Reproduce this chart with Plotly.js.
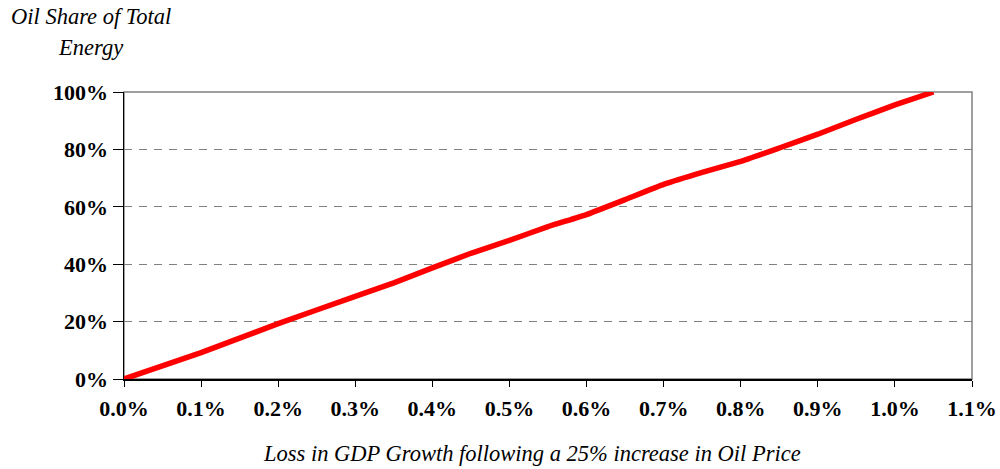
<!DOCTYPE html>
<html>
<head>
<meta charset="utf-8">
<script src="https://cdn.plot.ly/plotly-3.0.1.min.js"></script>
<style>
  html, body { margin: 0; padding: 0; background: #ffffff; }
  #chart { width: 1000px; height: 469px; }
</style>
</head>
<body>
<div id="chart"></div>
<script>
// Loss in GDP growth (%) following a 25% oil price increase
const gdpLoss = [0, 0.1, 0.2, 0.3, 0.35, 0.4, 0.45, 0.5, 0.55, 0.6, 0.65, 0.7, 0.75, 0.8, 0.85, 0.9, 0.95, 1.0, 1.05];
// Oil share of total energy (%)
const oilShare = [0, 9.2, 19.3, 28.8, 33.5, 38.7, 43.8, 48.3, 53.1, 57.3, 62.5, 67.8, 72.0, 75.8, 80.5, 85.3, 90.5, 95.5, 100];

const xTickVals = [0, 0.1, 0.2, 0.3, 0.4, 0.5, 0.6, 0.7, 0.8, 0.9, 1.0, 1.1];
const xTickText = ["0.0%", "0.1%", "0.2%", "0.3%", "0.4%", "0.5%", "0.6%", "0.7%", "0.8%", "0.9%", "1.0%", "1.1%"];
const yTickVals = [0, 20, 40, 60, 80, 100];
const yTickText = ["0%", "20%", "40%", "60%", "80%", "100%"];

const yTitleLine1 = "Oil Share of Total";
const yTitleLine2 = "Energy";
const xTitle = "Loss in GDP Growth following a 25% increase in Oil Price";

const serif = "Liberation Serif, Times New Roman, serif";

const trace = {
  x: gdpLoss,
  y: oilShare,
  type: "scatter",
  mode: "lines",
  line: { color: "#FF0000", width: 5.5, shape: "spline", smoothing: 0.3 },
  hoverinfo: "skip",
  showlegend: false
};

const layout = {
  width: 1000,
  height: 469,
  margin: { l: 124, r: 28, t: 92, b: 90 },
  paper_bgcolor: "#ffffff",
  plot_bgcolor: "#ffffff",
  showlegend: false,
  xaxis: {
    range: [0, 1.1],
    tickvals: xTickVals,
    ticktext: xTickText,
    ticks: "outside",
    ticklen: 6,
    tickcolor: "#000000",
    tickwidth: 1,
    ticklabelstandoff: 3,
    showline: true,
    linecolor: "#000000",
    linewidth: 1.5,
    showgrid: false,
    zeroline: false,
    tickfont: { family: serif, size: 22, color: "#000000", weight: "bold" },
    fixedrange: true
  },
  yaxis: {
    range: [0, 100],
    tickvals: yTickVals,
    ticktext: yTickText,
    ticks: "outside",
    ticklen: 10,
    tickcolor: "#000000",
    tickwidth: 1,
    showline: true,
    linecolor: "#000000",
    linewidth: 1.5,
    showgrid: true,
    gridcolor: "#808080",
    gridwidth: 1,
    griddash: "8px,7px",
    zeroline: false,
    tickfont: { family: serif, size: 22, color: "#000000", weight: "bold" },
    fixedrange: true
  },
  shapes: [
    {
      type: "rect", xref: "paper", yref: "paper",
      x0: 0, x1: 1, y0: 0, y1: 1,
      line: { color: "#808080", width: 1.5 },
      layer: "below"
    }
  ],
  annotations: [
    {
      text: yTitleLine1, xref: "paper", yref: "paper",
      x: 0, y: 1, xanchor: "center", yanchor: "middle",
      xshift: -33, yshift: 76,
      showarrow: false,
      font: { family: serif, size: 22.5, color: "#000000", style: "italic" }
    },
    {
      text: yTitleLine2, xref: "paper", yref: "paper",
      x: 0, y: 1, xanchor: "center", yanchor: "middle",
      xshift: -34, yshift: 45,
      showarrow: false,
      font: { family: serif, size: 22.5, color: "#000000", style: "italic" }
    },
    {
      text: xTitle, xref: "paper", yref: "paper",
      x: 0.481, y: 0, xanchor: "center", yanchor: "middle",
      yshift: -74,
      showarrow: false,
      font: { family: serif, size: 22.5, color: "#000000", style: "italic" }
    }
  ]
};

Plotly.newPlot("chart", [trace], layout, { displayModeBar: false, staticPlot: true });
</script>
</body>
</html>
